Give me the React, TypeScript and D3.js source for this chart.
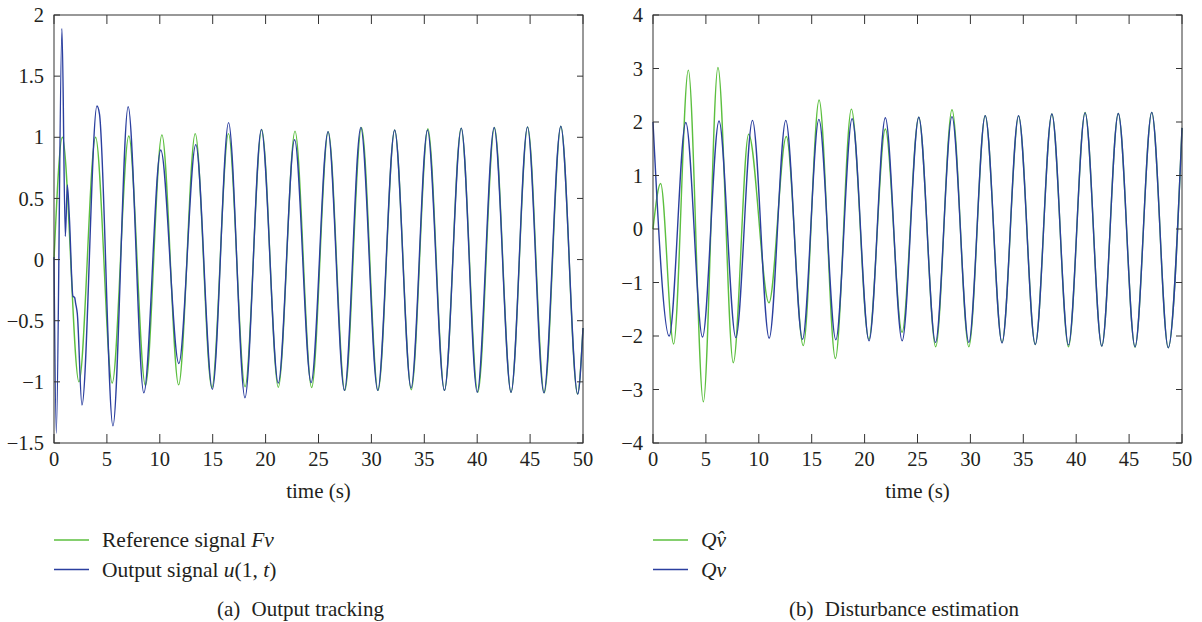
import React from "react";
import * as d3 from "d3";

// left panel: output tracking
const refTimes = [0, 0.79, 2.36, 3.93, 5.5, 7.07, 8.64, 10.2, 11.78, 13.35, 14.92, 16.49, 18.06, 19.63, 21.2, 22.78, 24.35, 25.92, 27.49, 29.06, 30.63, 32.2, 33.77, 35.34, 36.91, 38.48, 40.06, 41.63, 43.2, 44.77, 46.34, 47.91, 49.48, 50];
const refValues = [0, 1.0, -1.0, 1.0, -1.01, 1.01, -1.03, 1.02, -1.025, 1.03, -1.05, 1.03, -1.04, 1.065, -1.045, 1.05, -1.047, 1.046, -1.07, 1.08, -1.07, 1.06, -1.065, 1.07, -1.07, 1.075, -1.085, 1.08, -1.085, 1.085, -1.09, 1.09, -1.1, -0.56];

const outTimes = [0, 0.22, 0.75, 1.07, 1.26, 1.45, 1.79, 1.95, 2.05, 2.2, 2.64, 4.06, 4.3, 5.57, 7.01, 8.49, 10.09, 11.8, 13.4, 14.97, 16.5, 18.05, 19.6, 21.2, 22.74, 24.3, 25.9, 27.45, 29.0, 30.6, 32.2, 33.75, 35.3, 36.9, 38.5, 40.0, 41.6, 43.2, 44.75, 46.3, 47.9, 49.5, 50];
const outValues = [0.02, -1.42, 1.89, 0.19, 0.61, 0.35, -0.3, -0.31, -0.36, -0.44, -1.19, 1.256, 1.19, -1.36, 1.25, -1.09, 0.896, -0.85, 0.94, -1.06, 1.12, -1.13, 1.065, -1.01, 0.98, -1.006, 1.046, -1.07, 1.08, -1.07, 1.06, -1.05, 1.06, -1.07, 1.075, -1.085, 1.08, -1.085, 1.085, -1.09, 1.09, -1.1, -0.56];

// right panel: disturbance estimation
const estTimes = [0, 0.72, 1.95, 3.34, 4.76, 6.14, 7.59, 9.04, 10.96, 12.6, 14.2, 15.7, 17.24, 18.75, 20.4, 21.96, 23.54, 25.12, 26.72, 28.26, 29.85, 31.4, 32.99, 34.56, 36.13, 37.7, 39.27, 40.84, 42.42, 43.98, 45.56, 47.14, 48.7, 50];
const estValues = [0, 0.85, -2.15, 2.97, -3.23, 3.02, -2.5, 1.77, -1.38, 1.73, -2.18, 2.41, -2.42, 2.24, -2.06, 1.87, -1.93, 2.09, -2.2, 2.23, -2.2, 2.12, -2.12, 2.11, -2.16, 2.15, -2.2, 2.18, -2.19, 2.16, -2.21, 2.18, -2.22, 1.89];

const distTimes = [0, 1.53, 3.1, 4.68, 6.24, 7.83, 9.4, 10.98, 12.55, 14.13, 15.68, 17.28, 18.82, 20.42, 21.96, 23.55, 25.12, 26.7, 28.26, 29.85, 31.4, 32.99, 34.55, 36.13, 37.7, 39.27, 40.84, 42.42, 43.98, 45.56, 47.14, 48.7, 50];
const distValues = [2.0, -2.0, 1.99, -2.02, 2.02, -2.03, 2.03, -2.04, 2.03, -2.06, 2.05, -2.07, 2.06, -2.09, 2.08, -2.09, 2.09, -2.12, 2.1, -2.12, 2.12, -2.13, 2.12, -2.16, 2.15, -2.17, 2.17, -2.19, 2.16, -2.2, 2.18, -2.22, 1.89];

const xTicks = [0, 5, 10, 15, 20, 25, 30, 35, 40, 45, 50];
const leftYTicks = [-1.5, -1, -0.5, 0, 0.5, 1, 1.5, 2];
const rightYTicks = [-4, -3, -2, -1, 0, 1, 2, 3, 4];

const GREEN = "#5cbf3f";
const BLUE = "#2b3f9f";
const INK = "#231f20";
const FONT = "'Liberation Serif', 'Times New Roman', serif";

const fmt = (v: number) => (v < 0 ? "\u2212" + Math.abs(v) : String(v));

const Panel = ({ left, yDomain, yTicks, series, legend, caption, captionX }: any) => {
  const top = 15, bottom = 443, width = 529;
  const x = d3.scaleLinear().domain([0, 50]).range([left, left + width]);
  const y = d3.scaleLinear().domain(yDomain).range([bottom, top]);
  const line = d3.line<[number, number]>()
    .x(d => x(d[0]))
    .y(d => y(d[1]))
    .curve(d3.curveMonotoneX);

  return (
    <g fontFamily={FONT} fill={INK}>
      {series.map((s: any, i: number) => (
        <path key={i} d={line(d3.zip(s.t, s.v) as any) || ""} fill="none" stroke={s.color} strokeWidth={1.4} />
      ))}
      <rect x={left} y={top} width={width} height={bottom - top} fill="none" stroke="#333" strokeWidth={1} />
      {xTicks.map(t => (
        <g key={"x" + t}>
          <line x1={x(t)} x2={x(t)} y1={bottom} y2={bottom - 9} stroke="#333" />
          <line x1={x(t)} x2={x(t)} y1={top} y2={top + 9} stroke="#333" />
          <text x={x(t)} y={bottom + 23} textAnchor="middle" fontSize={20.5}>{fmt(t)}</text>
        </g>
      ))}
      {yTicks.map((v: number) => (
        <g key={"y" + v}>
          <line x1={left} x2={left + 6} y1={y(v)} y2={y(v)} stroke="#333" />
          <line x1={left + width} x2={left + width - 6} y1={y(v)} y2={y(v)} stroke="#333" />
          <text x={left - 10} y={y(v)} dy="0.35em" textAnchor="end" fontSize={20.5}>{fmt(v)}</text>
        </g>
      ))}
      <text x={left + width / 2} y={498} textAnchor="middle" fontSize={21}>time (s)</text>
      {legend.map((l: any, i: number) => (
        <g key={"l" + i}>
          <line x1={left} x2={left + 35} y1={540 + i * 29.5} y2={540 + i * 29.5} stroke={l.color} strokeWidth={1.6} />
          <text x={left + 48} y={547 + i * 29.5} fontSize={21.5}>{l.label}</text>
        </g>
      ))}
      <text x={captionX} y={616} fontSize={21}>{caption}</text>
    </g>
  );
};

export default function App() {
  return (
    <svg width={1202} height={622} style={{ position: "absolute", left: 0, top: 0, background: "#fff" }}>
      <Panel
        left={54}
        yDomain={[-1.5, 2]}
        yTicks={leftYTicks}
        series={[
          { t: refTimes, v: refValues, color: GREEN },
          { t: outTimes, v: outValues, color: BLUE },
        ]}
        legend={[
          { color: GREEN, label: <>Reference signal <tspan fontStyle="italic">Fν</tspan></> },
          { color: BLUE, label: <>Output signal <tspan fontStyle="italic">u</tspan>(1, <tspan fontStyle="italic">t</tspan>)</> },
        ]}
        caption={<>(a)<tspan dx={6}> Output tracking</tspan></>}
        captionX={217}
      />
      <Panel
        left={653}
        yDomain={[-4, 4]}
        yTicks={rightYTicks}
        series={[
          { t: estTimes, v: estValues, color: GREEN },
          { t: distTimes, v: distValues, color: BLUE },
        ]}
        legend={[
          { color: GREEN, label: <tspan fontStyle="italic">Qν<tspan dx={-9.5} dy={-1}>ˆ</tspan></tspan> },
          { color: BLUE, label: <tspan fontStyle="italic">Qν</tspan> },
        ]}
        caption={<>(b)<tspan dx={6}> Disturbance estimation</tspan></>}
        captionX={789}
      />
    </svg>
  );
}
